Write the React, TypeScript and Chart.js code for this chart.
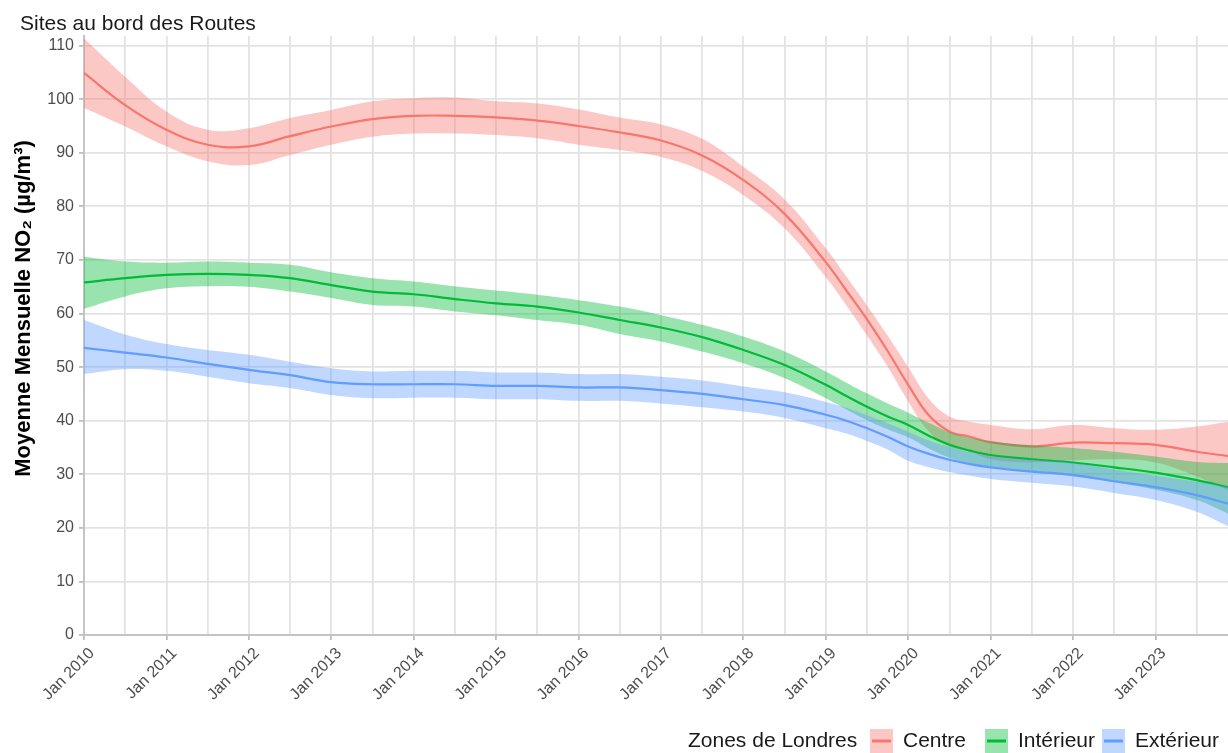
import { useEffect, useRef } from "react";
import { Chart, registerables } from "chart.js";

Chart.register(...registerables);

// Time positions in decimal years (Jan 2010 = 2010.0)
const timePoints = [
  2010.0, 2010.5, 2011.0, 2011.5, 2012.0, 2012.5, 2013.0, 2013.5, 2014.0, 2014.5,
  2015.0, 2015.5, 2016.0, 2016.5, 2017.0, 2017.5, 2018.0, 2018.5, 2019.0, 2019.25,
  2019.5, 2019.75, 2020.0, 2020.25, 2020.5, 2020.75, 2021.0, 2021.5, 2022.0, 2022.5,
  2023.0, 2023.5, 2023.88,
];

// Centre: smoothed monthly mean and confidence band
const centreMean = [
  104.9, 98.9, 94.3, 91.5, 91.2, 93.1, 94.9, 96.3, 96.9, 96.9,
  96.6, 96.0, 95.0, 93.8, 92.3, 89.5, 84.9, 78.6, 69.6, 64.3,
  58.9, 53.0, 46.7, 41.0, 38.0, 37.0, 36.0, 35.2, 35.9, 35.8,
  35.5, 34.2, 33.4,
];
const centreHigh = [
  111.4, 104.2, 97.7, 94.3, 94.6, 96.5, 98.0, 99.6, 100.2, 100.3,
  99.6, 99.2, 98.1, 96.6, 95.3, 92.6, 87.4, 81.3, 72.2, 66.9,
  61.5, 55.9, 50.0, 44.1, 40.8, 39.8, 39.2, 38.4, 39.2, 38.6,
  38.3, 38.9, 39.8,
];
const centreLow = [
  98.4, 94.9, 91.2, 88.4, 87.7, 89.6, 91.5, 93.0, 93.6, 93.6,
  93.3, 92.7, 91.5, 90.5, 89.2, 86.6, 82.1, 75.9, 66.8, 61.5,
  55.9, 50.1, 43.6, 38.0, 35.2, 34.2, 32.8, 32.2, 32.6, 32.8,
  32.2, 29.6, 27.0,
];

// Intérieur
const interieurMean = [
  65.8, 66.6, 67.2, 67.4, 67.2, 66.6, 65.3, 64.1, 63.6, 62.7,
  61.9, 61.3, 60.2, 58.8, 57.4, 55.6, 53.2, 50.4, 46.7, 44.6,
  42.6, 40.8, 39.2, 37.2, 35.5, 34.4, 33.6, 32.8, 32.2, 31.3,
  30.3, 28.9, 27.6,
];
const interieurHigh = [
  70.6, 69.7, 69.5, 69.7, 69.5, 69.1, 67.7, 66.6, 66.0, 65.1,
  64.3, 63.5, 62.5, 61.3, 59.7, 57.9, 55.7, 52.9, 49.2, 47.1,
  45.1, 43.2, 41.5, 39.6, 37.9, 36.8, 36.1, 35.4, 34.9, 34.2,
  33.3, 32.3, 32.1,
];
const interieurLow = [
  60.9, 63.2, 64.7, 65.1, 65.0, 64.1, 62.9, 61.6, 61.3, 60.4,
  59.7, 58.8, 57.9, 56.2, 54.8, 52.9, 50.7, 47.9, 44.2, 42.1,
  40.1, 38.4, 36.9, 34.8, 33.1, 32.0, 31.4, 30.5, 29.6, 28.5,
  27.1, 25.2, 22.7,
];

// Extérieur
const exterieurMean = [
  53.6, 52.7, 51.8, 50.6, 49.5, 48.5, 47.2, 46.8, 46.8, 46.8,
  46.5, 46.5, 46.2, 46.2, 45.7, 45.0, 44.0, 42.9, 41.1, 40.0,
  38.6, 37.0, 35.2, 33.8, 32.7, 31.9, 31.3, 30.5, 29.9, 28.7,
  27.6, 26.1, 24.5,
];
const exterieurHigh = [
  58.8, 56.1, 54.3, 53.2, 52.3, 51.0, 49.8, 49.2, 49.3, 49.3,
  49.0, 49.0, 48.7, 48.7, 48.2, 47.5, 46.4, 45.3, 43.5, 42.4,
  41.0, 39.5, 37.9, 36.3, 35.1, 34.1, 33.4, 32.7, 32.1, 30.9,
  29.7, 28.6, 27.7,
];
const exterieurLow = [
  48.7, 49.6, 49.3, 48.2, 47.0, 46.1, 44.8, 44.2, 44.3, 44.3,
  44.0, 44.0, 43.7, 43.7, 43.2, 42.5, 41.7, 40.5, 38.6, 37.6,
  36.2, 34.6, 32.5, 31.3, 30.4, 29.7, 29.1, 28.4, 27.7, 26.5,
  25.2, 23.0, 20.3,
];

const zoneNames = ["Centre", "Intérieur", "Extérieur"];
const legendTitle = "Zones de Londres";
const chartTitle = "Sites au bord des Routes";
const yAxisTitle = "Moyenne Mensuelle NO₂ (µg/m³)";

const lineColors = ["#F8766D", "#00BA38", "#619CFF"];
const bandColors = [
  "rgba(248,118,109,0.4)",
  "rgba(0,186,56,0.4)",
  "rgba(97,156,255,0.4)",
];

const FONT = "'Liberation Sans', Arial, sans-serif";

const toPoints = (vals: number[]) => timePoints.map((x, i) => ({ x, y: vals[i] }));

const isWholeYear = (v: number) => Math.abs(v - Math.round(v)) < 1e-6;

// Title, rotated y-axis title and ggplot-style inline legend
const decorations = {
  id: "decorations",
  afterDraw(chart: any) {
    const ctx = chart.ctx as CanvasRenderingContext2D;
    ctx.save();

    ctx.fillStyle = "#1A1A1A";
    ctx.font = `21px ${FONT}`;
    ctx.textAlign = "left";
    ctx.textBaseline = "alphabetic";
    ctx.fillText(chartTitle, 20, 29.5);

    ctx.save();
    ctx.translate(29.5, 308.5);
    ctx.rotate(-Math.PI / 2);
    ctx.font = `bold 22px ${FONT}`;
    ctx.textAlign = "center";
    ctx.fillStyle = "#000000";
    ctx.fillText(yAxisTitle, 0, 0);
    ctx.restore();

    ctx.font = `21px ${FONT}`;
    ctx.fillStyle = "#1A1A1A";
    ctx.textBaseline = "middle";
    const cy = 741;
    ctx.fillText(legendTitle, 688, cy);
    const keyX = [870, 985, 1102];
    zoneNames.forEach((name, i) => {
      const kx = keyX[i];
      ctx.fillStyle = "#FFFFFF";
      ctx.fillRect(kx, 729, 23, 24);
      ctx.fillStyle = bandColors[i];
      ctx.fillRect(kx, 729, 23, 24);
      ctx.strokeStyle = lineColors[i];
      ctx.lineWidth = 3;
      ctx.beginPath();
      ctx.moveTo(kx + 2, cy);
      ctx.lineTo(kx + 21, cy);
      ctx.stroke();
      ctx.fillStyle = "#1A1A1A";
      ctx.fillText(name, kx + 33, cy);
    });
    ctx.restore();
  },
};

export default function App() {
  const canvasRef = useRef<HTMLCanvasElement | null>(null);

  useEffect(() => {
    const canvas = canvasRef.current;
    if (!canvas) return;

    const means = [centreMean, interieurMean, exterieurMean];
    const highs = [centreHigh, interieurHigh, exterieurHigh];
    const lows = [centreLow, interieurLow, exterieurLow];

    const curve = { tension: 0.4, pointRadius: 0 };

    const datasets: any[] = [];
    zoneNames.forEach((name, i) => {
      const base = (2 - i) * 3; // earlier zones sit underneath later ones
      datasets.push({
        ...curve,
        label: `${name} haut`,
        data: toPoints(highs[i]),
        borderWidth: 0,
        borderColor: "rgba(0,0,0,0)",
        backgroundColor: bandColors[i],
        fill: "+1",
        order: base + 3,
      });
      datasets.push({
        ...curve,
        label: `${name} bas`,
        data: toPoints(lows[i]),
        borderWidth: 0,
        borderColor: "rgba(0,0,0,0)",
        fill: false,
        order: base + 2,
      });
      datasets.push({
        ...curve,
        label: name,
        data: toPoints(means[i]),
        borderWidth: 2.2,
        borderColor: lineColors[i],
        fill: false,
        order: base + 1,
      });
    });

    const chart = new Chart(canvas, {
      type: "line",
      data: { datasets },
      options: {
        animation: false,
        responsive: false,
        events: [],
        layout: { padding: { top: 36, left: 0, right: 0, bottom: 0 } },
        plugins: {
          legend: { display: false },
          title: { display: false },
          tooltip: { enabled: false },
        },
        scales: {
          x: {
            type: "linear",
            min: 2010,
            max: 2023.88,
            afterFit: (scale: any) => {
              scale.height = 118;
            },
            grid: {
              color: "#E3E3E3",
              lineWidth: 1.8,
              drawTicks: true,
              tickLength: 5,
              tickColor: (c: any) =>
                c.tick && isWholeYear(c.tick.value) ? "#BDBDBD" : "rgba(0,0,0,0)",
              tickWidth: 1.8,
            },
            border: { display: true, color: "#C4C4C4", width: 2 },
            ticks: {
              stepSize: 0.5,
              includeBounds: false,
              autoSkip: false,
              minRotation: 45,
              maxRotation: 45,
              padding: 4,
              labelOffset: 8,
              color: "#4D4D4D",
              font: { family: FONT, size: 16 },
              callback: (v: any) => (isWholeYear(Number(v)) ? `Jan ${Math.round(Number(v))}` : ""),
            },
          },
          y: {
            type: "linear",
            min: 0,
            max: 111.8,
            afterFit: (scale: any) => {
              scale.width = 84;
            },
            grid: {
              color: "#E3E3E3",
              lineWidth: 1.8,
              drawTicks: true,
              tickLength: 5,
              tickColor: "#BDBDBD",
              tickWidth: 1.8,
            },
            border: { display: true, color: "#C4C4C4", width: 2 },
            ticks: {
              stepSize: 10,
              includeBounds: false,
              padding: 5,
              color: "#4D4D4D",
              font: { family: FONT, size: 16 },
            },
          },
        },
      },
      plugins: [decorations],
    });

    return () => chart.destroy();
  }, []);

  return (
    <div style={{ position: "fixed", left: 0, top: 0, width: 1228, height: 753, background: "#FFFFFF" }}>
      <canvas ref={canvasRef} width={1228} height={753} style={{ display: "block" }} />
    </div>
  );
}
